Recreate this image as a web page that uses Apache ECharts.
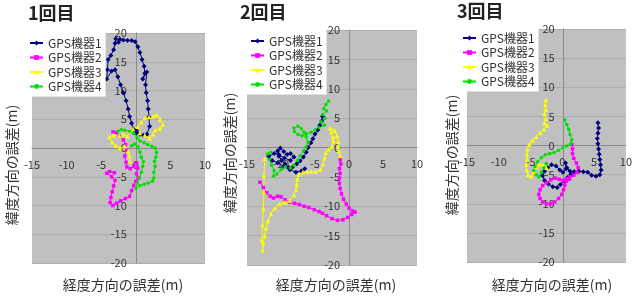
<!DOCTYPE html>
<html lang="ja">
<head>
    <meta charset="utf-8">
    <title>GPS機器の誤差</title>
    <style>
        html, body { margin: 0; padding: 0; background: #fff; }
        #main { width: 635px; height: 299px; }
    </style>
</head>
<body>
<div id="main"></div>
<script src="https://cdn.jsdelivr.net/npm/echarts@6/dist/echarts.min.js"></script>
<script type="text/javascript">

    // 系列名・回
    var deviceNames = ['GPS機器1', 'GPS機器2', 'GPS機器3', 'GPS機器4'];
    var runTitles = ['1回目', '2回目', '3回目'];
    var xTicks = [-15, -10, -5, 0, 5, 10];
    var yTicks = [-20, -15, -10, -5, 0, 5, 10, 15, 20];

    // 1回目 [経度誤差, 緯度誤差] (m)
    var run1Gps1 = [[0.1,2.6],[-0.3,3.2],[-0.6,4.3],[-0.9,5.5],[-1.1,6.8],[-1.4,8.2],[-1.8,9.6],[-2.2,11.0],[-2.6,12.4],
        [-3.0,13.6],[-3.5,13.4],[-4.2,12.0],[-4.1,13.6],[-4.0,15.4],[-3.6,16.1],[-3.2,17.1],[-3.0,18.2],[-2.9,19.0],
        [-2.5,18.4],[-2.3,18.9],[-1.8,18.8],[-1.2,18.7],[-0.6,18.7],[-0.1,18.5],[0.3,17.6],[0.6,16.6],[0.9,15.4],
        [1.2,14.2],[1.3,13.0],[1.0,12.0],[1.6,13.2],[1.4,11.0],[1.5,9.6],[1.7,8.2],[1.8,6.8],[1.9,5.4],[2.0,3.8],
        [1.6,2.4],[1.1,2.2],[0.6,2.4],[0.1,3.0]];
    var run1Gps2 = [[-3.3,2.8],[-2.8,2.7],[-2.4,2.0],[-1.8,1.4],[-1.5,0.6],[-1.3,-0.4],[-1.6,-1.4],[-1.4,-2.5],
        [-1.3,-3.3],[-0.8,-3.6],[-0.3,-3.2],[0.1,-2.6],[0.3,-3.5],[0.1,-4.5],[0.4,-5.2],[0.0,-5.8],[-0.3,-6.5],
        [-0.6,-7.4],[-0.9,-8.4],[-1.5,-8.8],[-2.2,-9.2],[-2.8,-9.6],[-3.3,-10.0],[-3.7,-9.5],[-3.6,-8.6],
        [-3.4,-7.6],[-3.2,-6.6],[-3.0,-5.6],[-3.5,-5.0],[-4.2,-4.4],[-3.8,-4.1],[-3.1,-4.3]];
    var run1Gps3 = [[-0.9,-2.3],[-0.9,-1.4],[-1.1,-0.5],[-1.6,0.3],[-2.3,0.0],[-2.9,0.4],[-3.4,1.0],[-3.8,1.9],
        [-3.2,2.2],[-2.4,2.1],[-1.8,2.4],[-1.2,2.0],[-0.9,3.0],[-0.4,3.3],[0.3,3.7],[0.8,4.5],[1.3,5.2],[1.9,5.4],
        [2.5,5.5],[3.0,5.8],[3.5,5.0],[3.9,4.1],[3.5,3.4],[2.8,3.1],[2.5,2.4],[2.0,1.7],[1.3,2.2],[0.6,2.6]];
    var run1Gps4 = [[-2.6,2.9],[-2.1,3.2],[-1.6,3.1],[-0.9,2.9],[-0.3,2.5],[0.2,1.8],[0.6,1.2],[1.2,0.9],[1.7,0.6],
        [2.3,0.3],[2.8,0.0],[3.0,-0.8],[2.9,-1.6],[2.7,-2.3],[2.8,-3.2],[2.6,-4.2],[2.6,-5.2],[2.4,-5.8],[1.8,-6.1],
        [1.2,-6.3],[0.6,-6.5],[0.0,-7.0],[0.2,-6.1],[0.5,-5.2],[0.8,-4.2],[1.0,-3.2],[1.1,-2.4],[0.8,-1.6],
        [0.6,-0.7],[0.3,0.2],[-0.2,0.7],[-0.6,0.4]];

    // 2回目
    var run2Gps1 = [[-3.9,5.3],[-4.0,4.5],[-4.3,3.8],[-4.6,3.0],[-5.0,2.3],[-5.3,1.5],[-5.6,0.8],[-6.0,0.0],
        [-6.3,-0.8],[-6.7,-1.6],[-7.2,-2.3],[-7.7,-2.8],[-8.3,-3.3],[-8.9,-3.4],[-9.4,-2.8],[-9.9,-2.2],
        [-10.3,-1.5],[-10.5,-0.6],[-10.1,-0.1],[-9.6,-0.7],[-9.1,-1.2],[-8.6,-1.0],[-8.1,-1.6],[-8.6,-2.2],
        [-9.5,-1.8],[-10.3,-1.2],[-11.0,-1.0],[-11.8,-1.5],[-11.3,-2.2],[-10.5,-2.6],[-9.6,-3.2],[-8.7,-3.8],
        [-7.8,-4.2],[-7.0,-4.0],[-6.5,-3.6]];
    var run2Gps2 = [[-1.3,-2.1],[-1.2,-2.8],[-1.4,-3.6],[-1.3,-4.4],[-1.4,-5.2],[-1.4,-6.1],[-1.3,-7.0],[-1.1,-7.9],
        [-0.8,-8.8],[-0.4,-9.6],[0.0,-10.3],[0.5,-10.8],[0.9,-11.0],[0.4,-11.4],[-0.2,-11.9],[-0.9,-12.3],
        [-1.7,-12.4],[-2.5,-12.1],[-3.3,-11.6],[-3.9,-11.2],[-4.4,-10.9],[-5.1,-10.6],[-5.9,-10.2],[-6.6,-10.0],
        [-7.3,-9.7],[-8.0,-9.5],[-8.7,-9.3],[-9.4,-8.9],[-10.0,-8.4],[-10.5,-8.3],[-11.1,-8.6],[-11.6,-8.3],
        [-12.1,-7.7],[-12.6,-6.8],[-13.1,-5.9]];
    var run2Gps3 = [[-1.3,-1.4],[-1.5,-0.6],[-1.6,0.2],[-1.6,1.0],[-1.8,2.0],[-2.1,2.9],[-2.8,3.3],[-2.6,2.6],
        [-2.4,1.8],[-2.3,1.1],[-2.5,0.2],[-3.0,-0.3],[-3.4,-0.9],[-3.6,-1.8],[-3.8,-2.8],[-4.2,-3.8],[-4.9,-4.1],
        [-5.6,-4.1],[-6.2,-4.1],[-6.8,-4.2],[-7.4,-4.6],[-7.6,-5.4],[-7.7,-6.3],[-7.8,-7.2],[-8.1,-8.1],
        [-8.7,-9.0],[-9.4,-9.3],[-10.2,-9.6],[-10.9,-10.3],[-11.5,-11.3],[-11.9,-12.5],[-12.2,-13.8],
        [-12.4,-15.0],[-12.6,-16.3],[-12.7,-17.5],[-12.8,-15.8],[-12.7,-13.2],[-12.6,-10.4],[-12.5,-7.6],
        [-12.5,-4.8],[-12.4,-1.9]];
    var run2Gps4 = [[-3.0,7.9],[-3.4,7.3],[-3.7,6.6],[-3.3,6.2],[-3.9,5.6],[-3.5,5.0],[-4.1,4.4],[-3.6,3.8],
        [-4.4,3.4],[-5.0,3.0],[-5.6,2.6],[-6.3,2.3],[-6.9,2.0],[-7.5,2.2],[-8.0,2.7],[-8.1,3.3],[-7.5,3.6],
        [-7.0,3.2],[-6.6,2.6],[-6.3,1.8],[-6.0,0.9],[-6.3,0.1],[-6.7,-0.6],[-7.2,-1.4],[-7.6,-2.2],[-8.1,-3.0],
        [-8.6,-3.5],[-9.4,-3.3],[-10.0,-3.8],[-10.6,-4.5],[-11.1,-4.9],[-11.0,-3.9],[-11.4,-3.0],[-11.7,-2.0],
        [-12.0,-1.1],[-11.5,-0.8]];

    // 3回目
    var run3Gps1 = [[5.6,3.9],[5.7,3.0],[5.6,2.1],[5.5,1.2],[5.6,0.3],[5.7,-0.6],[5.8,-1.5],[5.9,-2.4],[6.0,-3.3],
        [6.1,-4.2],[5.9,-5.0],[5.3,-5.3],[4.6,-5.1],[4.0,-4.6],[3.3,-4.5],[2.6,-4.4],[1.9,-4.5],[1.2,-4.4],
        [0.7,-3.8],[0.5,-3.0],[0.6,-4.0],[0.1,-4.6],[-0.4,-4.2],[-1.0,-3.5],[-1.7,-3.3],[-2.3,-3.8],[-2.8,-4.4],
        [-3.1,-5.2],[-2.8,-6.0],[-2.2,-6.6],[-1.5,-7.1],[-0.8,-7.2],[-0.3,-6.7],[0.3,-6.1],[0.8,-5.5],
        [1.3,-5.0],[1.8,-4.6]];
    var run3Gps2 = [[1.5,0.2],[1.6,-0.6],[1.6,-1.4],[1.8,-2.2],[2.2,-3.0],[2.5,-3.8],[2.3,-4.6],[1.8,-5.1],
        [1.2,-5.4],[0.6,-5.7],[0.1,-6.0],[-0.5,-5.8],[-1.1,-5.6],[-1.8,-5.9],[-2.5,-6.4],[-3.1,-6.9],[-3.5,-7.6],
        [-3.7,-8.4],[-3.5,-9.1],[-3.1,-9.7],[-2.5,-10.0],[-1.8,-10.0],[-1.2,-9.7],[-0.6,-9.1],[-0.1,-8.4],
        [0.2,-7.6],[0.4,-6.8],[0.6,-6.1],[1.1,-5.8]];
    var run3Gps3 = [[-2.6,7.8],[-2.7,7.0],[-2.6,6.2],[-2.8,5.4],[-2.6,4.6],[-2.8,3.8],[-2.4,3.4],[-2.9,2.8],
        [-3.5,2.2],[-4.1,1.5],[-4.7,0.9],[-5.2,0.2],[-5.5,-0.6],[-5.6,-1.5],[-5.5,-2.4],[-5.7,-3.3],[-5.6,-4.2],
        [-5.4,-5.0],[-4.9,-5.3],[-4.5,-4.5],[-4.1,-3.7],[-3.6,-3.2],[-3.0,-3.4],[-2.5,-3.8]];
    var run3Gps4 = [[0.4,4.4],[0.7,3.6],[1.0,2.8],[1.2,1.9],[1.5,1.0],[1.3,0.3],[0.7,-0.1],[0.1,-0.4],[-0.6,-0.8],
        [-1.3,-1.2],[-2.0,-1.4],[-2.7,-1.6],[-3.3,-2.1],[-3.9,-2.8],[-4.3,-3.6],[-4.5,-4.3],[-4.1,-5.0],
        [-3.7,-5.4],[-3.3,-4.6],[-2.9,-3.8],[-2.5,-3.1]];

    var runs = [
        [run1Gps1, run1Gps2, run1Gps3, run1Gps4],
        [run2Gps1, run2Gps2, run2Gps3, run2Gps4],
        [run3Gps1, run3Gps2, run3Gps3, run3Gps4]
    ];

    var colors = ['#000080', '#ff00ff', '#ffff00', '#00e000'];
    var symbols = ['diamond', 'rect', 'triangle', 'circle'];
    var symbolSizes = [5, 3.5, 4.5, 3.5];

    // 各パネルの描画領域
    var panels = [
        {grid: {left: 32, top: 33, width: 173, height: 230}, legend: {left: 24, top: 32}, title: {left: 28, top: 4},
            xName: [123, 285], yName: [12, 165]},
        {grid: {left: 247, top: 30, width: 170, height: 235}, legend: {left: 245, top: 30}, title: {left: 240, top: 3},
            xName: [336, 285], yName: [230, 153]},
        {grid: {left: 467, top: 29, width: 161, height: 233}, legend: {left: 457, top: 27}, title: {left: 457, top: 2},
            xName: [552, 285], yName: [452, 155]}
    ];

    var font = '"Noto Sans CJK JP", "Noto Sans", sans-serif';
    var chart = echarts.init(document.getElementById('main'), null, {renderer: 'canvas'});

    var xMin = xTicks[0], xMax = xTicks[xTicks.length - 1];
    var yMin = yTicks[0], yMax = yTicks[yTicks.length - 1];

    var option = {
        animation: false,
        backgroundColor: '#fff',
        textStyle: {fontFamily: font},
        title: [],
        grid: [],
        xAxis: [],
        yAxis: [],
        legend: [],
        graphic: [],
        series: []
    };

    panels.forEach(function (p, i) {
        // 軸を原点(0,0)の位置まで移動させる
        var xOffset = -p.grid.height * (0 - yMin) / (yMax - yMin);
        var yOffset = -p.grid.width * (0 - xMin) / (xMax - xMin);

        option.title.push({
            text: runTitles[i], left: p.title.left, top: p.title.top, padding: 0,
            textStyle: {fontSize: 18, fontWeight: 'bold', color: '#222', fontFamily: font}
        });
        option.grid.push({
            left: p.grid.left, top: p.grid.top, width: p.grid.width, height: p.grid.height,
            show: true, backgroundColor: '#c0c0c0', borderWidth: 0
        });
        option.xAxis.push({
            type: 'value', gridIndex: i, min: xMin, max: xMax, interval: 5,
            position: 'bottom', offset: xOffset,
            axisLine: {onZero: false, lineStyle: {color: '#8a8a8a', width: 1}},
            axisTick: {show: false},
            splitLine: {show: false},
            axisLabel: {fontSize: 11, color: '#333', margin: 11, fontFamily: font}
        });
        option.yAxis.push({
            type: 'value', gridIndex: i, min: yMin, max: yMax, interval: 5,
            position: 'left', offset: yOffset,
            axisLine: {show: true, onZero: false, lineStyle: {color: '#8a8a8a', width: 1}},
            axisTick: {show: false},
            splitLine: {show: true, lineStyle: {color: '#adadad', width: 1}},
            axisLabel: {fontSize: 11, color: '#333', margin: 9, fontFamily: font}
        });
        option.legend.push({
            data: deviceNames, orient: 'vertical', left: p.legend.left, top: p.legend.top,
            backgroundColor: '#fff', padding: [5, 4, 4, 5], itemGap: 2.5,
            itemWidth: 13, itemHeight: 6, selectedMode: false,
            textStyle: {fontSize: 12, color: '#333', fontFamily: font}
        });
        option.graphic.push({
            type: 'text', x: p.xName[0], y: p.xName[1],
            style: {text: '経度方向の誤差(m)', fill: '#333', font: '14px ' + font, align: 'center', verticalAlign: 'middle'}
        });
        option.graphic.push({
            type: 'text', x: p.yName[0], y: p.yName[1], rotation: Math.PI / 2,
            style: {text: '緯度方向の誤差(m)', fill: '#333', font: '14px ' + font, align: 'center', verticalAlign: 'middle'}
        });

        runs[i].forEach(function (pts, j) {
            option.series.push({
                name: deviceNames[j],
                type: 'line',
                xAxisIndex: i,
                yAxisIndex: i,
                data: pts,
                symbol: symbols[j],
                symbolSize: symbolSizes[j],
                showSymbol: true,
                lineStyle: {width: 1, color: colors[j]},
                itemStyle: {color: colors[j]},
                emphasis: {disabled: true}
            });
        });
    });

    chart.setOption(option);

</script>
</body>
</html>
